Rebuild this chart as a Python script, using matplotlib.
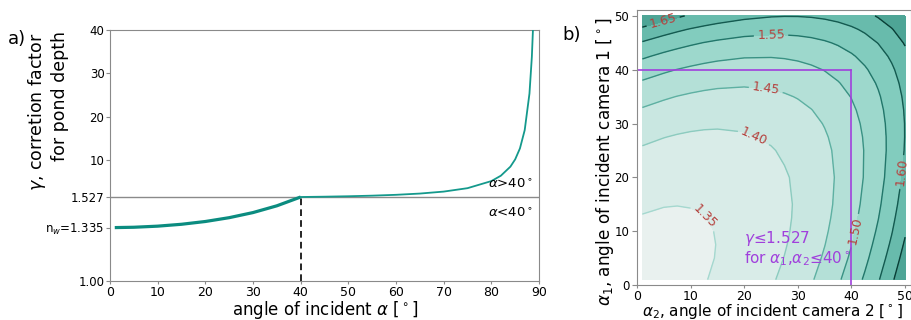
import numpy as np
import matplotlib
matplotlib.use("Agg")
import matplotlib.pyplot as plt

# ---------------- data ----------------
n_water = 1.335
gamma_crit = 1.527
alpha_crit = 40

# panel a: correction factor vs incidence angle
alpha_low = [1, 5, 10, 15, 20, 25, 30, 35, 40]
gamma_low = [1.3351, 1.3372, 1.3441, 1.3559, 1.3733, 1.3973, 1.4293, 1.4717, 1.5274]
alpha_high = [40, 45, 50, 55, 60, 65, 70, 75, 80, 82, 84, 85, 86, 87, 88, 88.5, 88.75, 89]
gamma_high = [1.5274, 1.6014, 1.7009, 1.8378, 2.0320, 2.3194, 2.7725, 3.5605, 5.1905,
              6.4331, 8.5201, 10.197, 12.718, 16.929, 25.362, 33.80, 40.56, 50.69]

ytick_vals = [1.00, n_water, gamma_crit, 10, 20, 30, 40]
ytick_labels = ["1.00", "n$_w$=1.335", "1.527", "10", "20", "30", "40"]

# panel b: combined factor for two cameras; the field is symmetric in
# (alpha1, alpha2), so each row lists the values from the diagonal onward
cam_angles = [1, 5, 7.5, 10, 12.5, 15, 20, 25, 27.5, 30, 32.5, 35, 37.5, 40, 42.5, 45, 47.5, 50]
gamma_upper = [
    [1.3351, 1.3369, 1.3395, 1.3433, 1.3483, 1.3546, 1.3715, 1.3949, 1.4095, 1.4264, 1.4457, 1.4680, 1.4936, 1.5229, 1.5568, 1.5959, 1.6413, 1.6942],
    [1.3372, 1.3389, 1.3418, 1.3459, 1.3512, 1.3661, 1.3874, 1.4009, 1.4165, 1.4346, 1.4554, 1.4794, 1.5072, 1.5392, 1.5763, 1.6195, 1.6699],
    [1.3401, 1.3424, 1.3459, 1.3506, 1.3643, 1.3842, 1.3970, 1.4119, 1.4291, 1.4491, 1.4723, 1.4990, 1.5299, 1.5659, 1.6077, 1.6566],
    [1.3441, 1.3470, 1.3512, 1.3636, 1.3823, 1.3943, 1.4084, 1.4249, 1.4441, 1.4663, 1.4921, 1.5220, 1.5567, 1.5972, 1.6447],
    [1.3493, 1.3529, 1.3641, 1.3814, 1.3928, 1.4062, 1.4219, 1.4403, 1.4616, 1.4864, 1.5153, 1.5489, 1.5881, 1.6341],
    [1.3559, 1.3658, 1.3819, 1.3925, 1.4052, 1.4201, 1.4377, 1.4582, 1.4820, 1.5099, 1.5424, 1.5804, 1.6250],
    [1.3733, 1.3866, 1.3959, 1.4071, 1.4205, 1.4365, 1.4552, 1.4772, 1.5031, 1.5334, 1.5690, 1.6110],
    [1.3973, 1.4051, 1.4148, 1.4267, 1.4410, 1.4580, 1.4782, 1.5021, 1.5303, 1.5636, 1.6030],
    [1.4122, 1.4211, 1.4322, 1.4457, 1.4619, 1.4811, 1.5040, 1.5312, 1.5633, 1.6014],
    [1.4293, 1.4396, 1.4522, 1.4675, 1.4859, 1.5077, 1.5338, 1.5648, 1.6016],
    [1.4490, 1.4608, 1.4752, 1.4926, 1.5135, 1.5384, 1.5683, 1.6038],
    [1.4717, 1.4851, 1.5015, 1.5214, 1.5453, 1.5739, 1.6082],
    [1.4976, 1.5130, 1.5318, 1.5546, 1.5821, 1.6150],
    [1.5274, 1.5451, 1.5668, 1.5930, 1.6247],
    [1.5617, 1.5822, 1.6071, 1.6375],
    [1.6014, 1.6251, 1.6540],
    [1.6474, 1.6749],
    [1.7009],
]
line_levels = [1.35, 1.40, 1.45, 1.50, 1.55, 1.60, 1.65]
fill_levels = [1.30, 1.35, 1.40, 1.45, 1.50, 1.55, 1.60, 1.65, 1.70, 1.75]

# ---------------- styling ----------------
teal = "#0b8c80"
purple = "#a040dc"
spine_col = "#8a8a8a"
fill_colors = ["#e9f1ef", "#d9ece8", "#c9e7e1", "#b4e0d7", "#9dd8cc",
               "#82ccbe", "#68bbac", "#4ea596", "#3e9585"]
line_colors = ["#a5d8cf", "#8ccbbf", "#5eb0a2", "#3a9284", "#22766a", "#145a50", "#0a3f37"]
label_col = "#b5403c"

fig = plt.figure(figsize=(9.12, 3.2), dpi=100)

# ---------------- panel a ----------------
ax1 = fig.add_axes([110 / 912, 1 - 281 / 320, (539 - 110) / 912, (281 - 30) / 320])

LOW_PX = 84.0
HIGH_RATE = 4.341


def fwd(y):
    y = np.asarray(y, dtype=float)
    return np.where(y <= gamma_crit,
                    (y - 1.0) / (gamma_crit - 1.0) * LOW_PX,
                    LOW_PX + (y - gamma_crit) * HIGH_RATE)


def inv(v):
    v = np.asarray(v, dtype=float)
    return np.where(v <= LOW_PX,
                    1.0 + v / LOW_PX * (gamma_crit - 1.0),
                    gamma_crit + (v - LOW_PX) / HIGH_RATE)


ax1.set_yscale("function", functions=(fwd, inv))
ax1.set_xlim(0, 90)
ax1.set_ylim(1.0, 40)

ax1.axhline(gamma_crit, color="#8a8a8a", lw=1.0, zorder=1)
ax1.vlines(alpha_crit, 1.0, gamma_crit, colors="k", linestyles=(0, (4, 2.5)), lw=1.2, zorder=2)
ax1.plot(alpha_low, gamma_low, color=teal, lw=2.3, solid_capstyle="butt", zorder=3)
ax1.plot(alpha_high, gamma_high, color="#14998c", lw=1.3, zorder=3)

ax1.annotate(r"$\alpha$>40$^\circ$", xy=(88.8, gamma_crit), xytext=(0, 4),
             textcoords="offset points", ha="right", va="bottom", fontsize=9.5)
ax1.annotate(r"$\alpha$<40$^\circ$", xy=(88.8, gamma_crit), xytext=(0, -7),
             textcoords="offset points", ha="right", va="top", fontsize=9.5)

ax1.set_yticks(ytick_vals)
ax1.set_yticklabels(ytick_labels)
ax1.set_xticks(np.arange(0, 91, 10))
ax1.minorticks_off()
ax1.tick_params(axis="x", labelsize=9, color=spine_col, length=2.5, pad=1)
ax1.tick_params(axis="y", labelsize=8.5, color=spine_col, length=3, pad=1)
for s in ax1.spines.values():
    s.set_color(spine_col)
ax1.set_xlabel(r"angle of incident $\alpha$ [$^\circ$]", fontsize=12, va="center")
ax1.xaxis.set_label_coords(0.503, -0.1155)
ax1.set_ylabel("$\\gamma$, corretion factor\n      for pond depth", fontsize=12.5,
               va="center", ha="center", multialignment="center")
ax1.yaxis.set_label_coords(-0.1457, 0.673)
fig.text(17 / 912, 1 - 39 / 320, "a)", fontsize=13, ha="center", va="center")

# ---------------- panel b ----------------
ax2 = fig.add_axes([637 / 912, 1 - 285 / 320, (911 - 637) / 912, (285 - 10) / 320])
n = len(cam_angles)
Z = np.zeros((n, n))
for i, row in enumerate(gamma_upper):
    for k, v in enumerate(row):
        Z[i, i + k] = v
        Z[i + k, i] = v
X, Y = np.meshgrid(cam_angles, cam_angles)
ax2.contourf(X, Y, Z, levels=fill_levels, colors=fill_colors)
cs = ax2.contour(X, Y, Z, levels=line_levels, colors=line_colors, linewidths=1.0)
ax2.clabel(cs, fmt="%.2f", fontsize=9, colors=label_col, inline=True, inline_spacing=4,
           manual=[(12, 12), (22, 28), (24, 36), (41, 10), (25, 47), (49, 21), (5, 48.5)])

ax2.plot([0, alpha_crit], [alpha_crit, alpha_crit], color=purple, lw=1.2)
ax2.plot([alpha_crit, alpha_crit], [0, alpha_crit], color=purple, lw=1.2)
ax2.text(20, 6.8, "$\\gamma$≤1.527\nfor $\\alpha_1$,$\\alpha_2$≤40$^\\circ$", color=purple,
         fontsize=11, ha="left", va="center", linespacing=1.1)

ax2.set_xlim(0, 51.1)
ax2.set_ylim(0, 51.1)
ax2.set_xticks(np.arange(0, 51, 10))
ax2.set_yticks(np.arange(0, 51, 10))
ax2.tick_params(axis="x", labelsize=9, color=spine_col, length=2.5, pad=1)
ax2.tick_params(axis="y", labelsize=8.5, color=spine_col, length=3.5, pad=2)
for s in ax2.spines.values():
    s.set_color(spine_col)
ax2.set_xlabel(r"$\alpha_2$, angle of incident camera 2 [$^\circ$]", fontsize=11, va="center")
ax2.xaxis.set_label_coords(0.496, -0.098)
ax2.set_ylabel(r"$\alpha_1$, angle of incident camera 1 [$^\circ$]", fontsize=12.2,
               va="center", ha="center")
ax2.yaxis.set_label_coords(-0.117, 0.447)
fig.text(572 / 912, 1 - 35 / 320, "b)", fontsize=13, ha="center", va="center")

fig.savefig("out.png", dpi=100)
